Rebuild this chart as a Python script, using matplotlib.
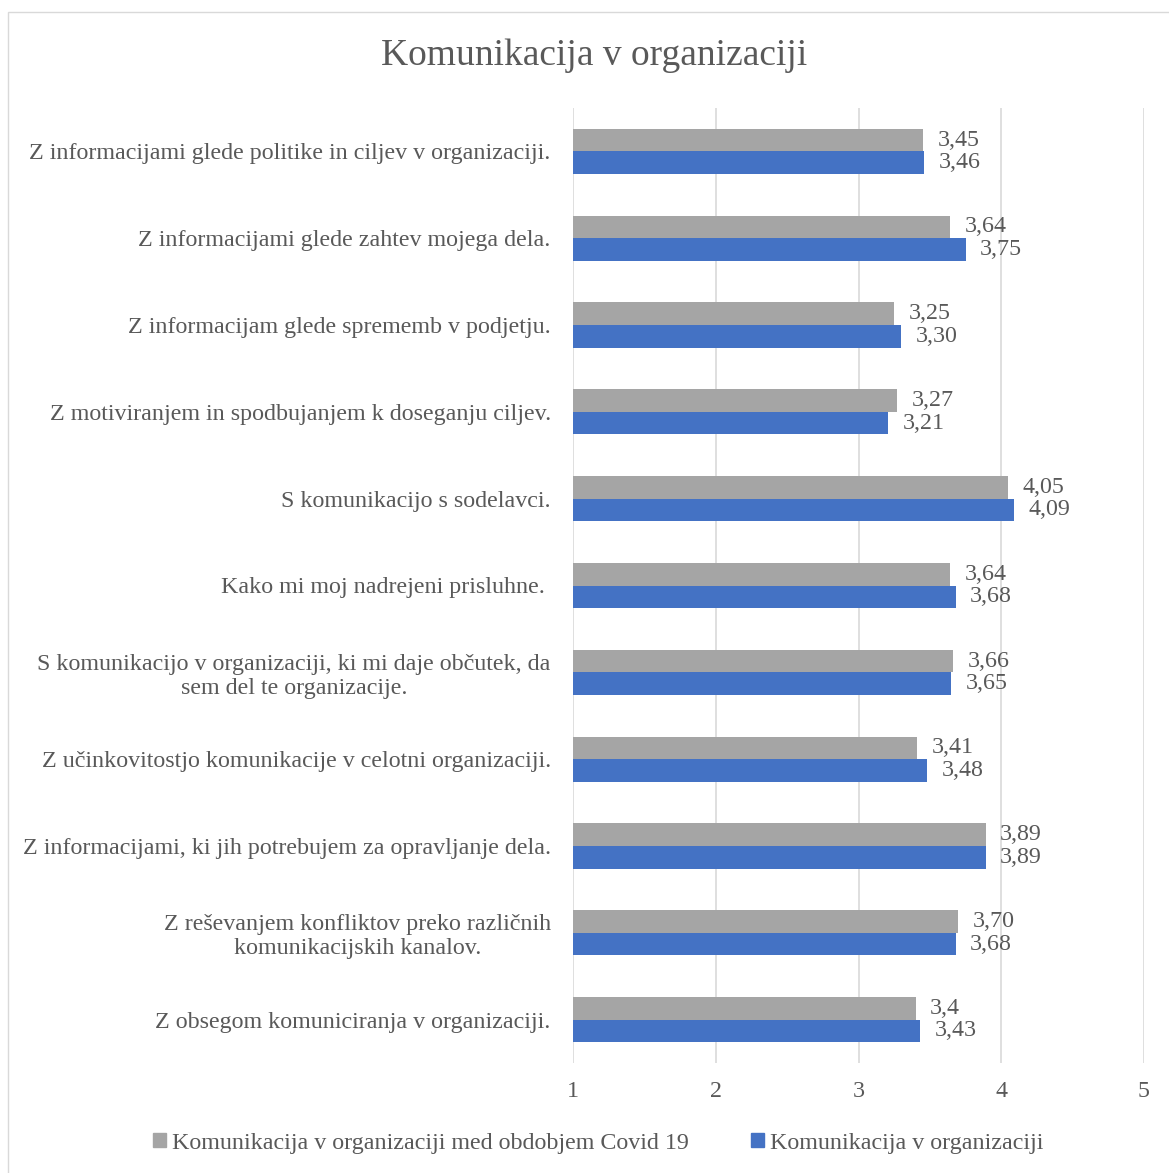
import matplotlib
matplotlib.use("Agg")
import matplotlib.pyplot as plt
from matplotlib.patches import Rectangle, Patch
import numpy as np

categories = [
    "Z informacijami glede politike in ciljev v organizaciji.",
    "Z informacijami glede zahtev mojega dela.",
    "Z informacijam glede sprememb v podjetju.",
    "Z motiviranjem in spodbujanjem k doseganju ciljev.",
    "S komunikacijo s sodelavci.",
    "Kako mi moj nadrejeni prisluhne. ",
    "S komunikacijo v organizaciji, ki mi daje občutek, da\nsem del te organizacije.",
    "Z učinkovitostjo komunikacije v celotni organizaciji.",
    "Z informacijami, ki jih potrebujem za opravljanje dela.",
    "Z reševanjem konfliktov preko različnih\nkomunikacijskih kanalov.",
    "Z obsegom komuniciranja v organizaciji.",
]
covid = [3.45, 3.64, 3.25, 3.27, 4.05, 3.64, 3.66, 3.41, 3.89, 3.70, 3.4]
covid_labels = ["3,45", "3,64", "3,25", "3,27", "4,05", "3,64", "3,66", "3,41", "3,89", "3,70", "3,4"]
normal = [3.46, 3.75, 3.30, 3.21, 4.09, 3.68, 3.65, 3.48, 3.89, 3.68, 3.43]
normal_labels = ["3,46", "3,75", "3,30", "3,21", "4,09", "3,68", "3,65", "3,48", "3,89", "3,68", "3,43"]
xticks = [1, 2, 3, 4, 5]
series_names = ["Komunikacija v organizaciji med obdobjem Covid 19", "Komunikacija v organizaciji"]

GRAY = "#A5A5A5"
BLUE = "#4472C4"
TXT = "#595959"
FS = 17.25
plt.rcParams['font.family'] = ['Liberation Serif', 'DejaVu Serif']

fig = plt.figure(figsize=(11.69, 11.73), dpi=100)
fig.patches.append(Rectangle((8/1169, -0.01), 1.0, 1 - 12/1173 + 0.01, transform=fig.transFigure,
                             fill=False, edgecolor="#D9D9D9", linewidth=1.0))
ax = fig.add_axes([573/1169, 1 - 1063/1173, (1144 - 573)/1169, (1063 - 108)/1173])

n = len(categories)
y = np.arange(n)
h = 0.26
ax.barh(y - h/2, covid, height=h, color=GRAY, zorder=3)
ax.barh(y + h/2, normal, height=h, color=BLUE, zorder=3)
for i in range(n):
    ax.annotate(covid_labels[i], (covid[i], y[i] - h/2), xytext=(10.5, 0), textcoords="offset points",
                ha="left", va="center", fontsize=FS, color=TXT)
    ax.annotate(normal_labels[i], (normal[i], y[i] + h/2), xytext=(10.5, 0), textcoords="offset points",
                ha="left", va="center", fontsize=FS, color=TXT)

ax.set_xlim(1, 5)
ax.set_ylim(n - 0.5, -0.5)
ax.set_xticks(xticks)
ax.set_xticklabels([str(t) for t in xticks])
ax.set_yticks(y)
ax.set_yticklabels(categories)
for t in ax.get_yticklabels():
    t.set_multialignment("center")
ax.tick_params(axis="both", length=0, labelsize=FS, colors=TXT)
ax.tick_params(axis="y", pad=16)
ax.tick_params(axis="x", pad=13)
ax.grid(axis="x", color="#D9D9D9", linewidth=1.2, zorder=0)
for s in ax.spines.values():
    s.set_visible(False)

fig.text(594/1169, 1 - 56/1173, "Komunikacija v organizaciji", ha="center", va="center",
         fontsize=27, color=TXT)

handles = [Patch(color=GRAY), Patch(color=BLUE)]
fig.legend(handles, series_names, loc="center", bbox_to_anchor=(598/1169, 1 - 1143/1173), ncol=2,
           frameon=False, fontsize=FS, labelcolor=TXT, handlelength=0.55, handleheight=0.55,
           handletextpad=0.25, columnspacing=2.6)

fig.savefig("out.png", dpi=100)
